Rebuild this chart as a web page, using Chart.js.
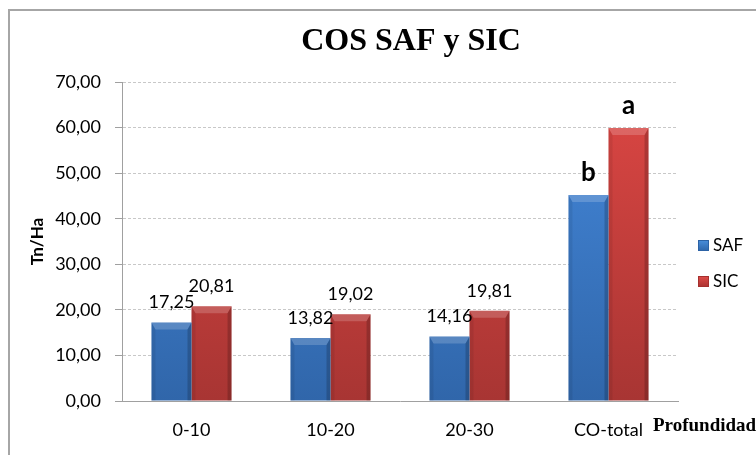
<!DOCTYPE html>
<html>
<head>
<meta charset="utf-8">
<script src="https://cdn.jsdelivr.net/npm/chart.js@4"></script>
<style>
    body { margin: 0; background: #fff; }
</style>
</head>
<body>
<canvas id="myChart" width="756" height="455"></canvas>
<script>
const categorias = ['0-10', '10-20', '20-30', 'CO-total'];
const valoresSAF = [17.25, 13.82, 14.16, 45.2];
const valoresSIC = [20.81, 19.02, 19.81, 59.9];
const etiquetasSAF = ['17,25', '13,82', '14,16', 'b'];
const etiquetasSIC = ['20,81', '19,02', '19,81', 'a'];
const letras = ['a', 'b'];

const fuente = 'Lato, "Open Sans", sans-serif';
const serif = '"Liberation Serif", "Times New Roman", serif';

function degradado(ctx, claro, oscuro) {
    const area = ctx.chart.chartArea;
    if (!area) return claro;
    const g = ctx.chart.ctx.createLinearGradient(0, area.top, 0, area.bottom);
    g.addColorStop(0, claro);
    g.addColorStop(1, oscuro);
    return g;
}

// marco, titulo, biselado, etiquetas y leyenda
const extras = {
    id: 'extras',
    beforeDraw(chart) {
        const c = chart.ctx;
        c.save();
        c.fillStyle = '#fff';
        c.fillRect(0, 0, chart.width, chart.height);
        c.strokeStyle = '#a6a6a6';
        c.lineWidth = 2;
        c.strokeRect(9, 10, 800, 500);
        c.restore();
    },
    afterDatasetsDraw(chart) {
        const c = chart.ctx;
        c.save();
        chart.data.datasets.forEach((ds, i) => {
            const meta = chart.getDatasetMeta(i);
            meta.data.forEach((bar, j) => {
                const l = bar.x - bar.width / 2, r = bar.x + bar.width / 2;
                const t = bar.y, b = bar.base;
                // franja superior clara
                c.fillStyle = 'rgba(255,255,255,0.18)';
                c.beginPath();
                c.moveTo(l, t); c.lineTo(r, t); c.lineTo(r - 4, t + 7); c.lineTo(l + 4, t + 7);
                c.closePath(); c.fill();
                // lados oscuros
                c.fillStyle = 'rgba(0,0,0,0.07)';
                c.beginPath();
                c.moveTo(l, t); c.lineTo(l + 4, t + 7); c.lineTo(l + 4, b); c.lineTo(l, b);
                c.closePath(); c.fill();
                c.fillStyle = 'rgba(0,0,0,0.18)';
                c.beginPath();
                c.moveTo(r, t); c.lineTo(r - 4, t + 7); c.lineTo(r - 4, b); c.lineTo(r, b);
                c.closePath(); c.fill();
                // etiqueta
                const txt = ds.etiquetas[j];
                const esLetra = letras.includes(txt);
                c.fillStyle = '#000';
                c.textAlign = 'center';
                c.textBaseline = 'middle';
                c.font = esLetra ? 'bold 26px ' + fuente : '18px ' + fuente;
                c.fillText(txt, bar.x, t - (esLetra ? 22 : 20));
            });
        });
        c.restore();
    },
    afterDraw(chart) {
        const c = chart.ctx;
        c.save();
        c.fillStyle = '#000';
        c.textAlign = 'center';
        c.textBaseline = 'middle';
        c.font = 'bold 32px ' + serif;
        c.fillText('COS SAF y SIC', 411, 42);
        c.textAlign = 'left';
        c.font = 'bold 19px ' + serif;
        c.fillText('Profundidad', 653, 426);
        // leyenda
        const cols = [['#4a8fdc', '#2c62a5'], ['#e04c49', '#a5302e']];
        chart.data.datasets.forEach((ds, i) => {
            const y = 246 + i * 36;
            const g = c.createLinearGradient(0, y - 6, 0, y + 6);
            g.addColorStop(0, cols[i][0]);
            g.addColorStop(1, cols[i][1]);
            c.fillStyle = g;
            c.fillRect(698, y - 6, 11, 11);
            c.strokeStyle = cols[i][1];
            c.lineWidth = 1;
            c.strokeRect(698.5, y - 5.5, 10, 10);
            c.fillStyle = '#000';
            c.font = '17px ' + fuente;
            c.fillText(ds.label, 713, y);
        });
        c.restore();
    }
};

new Chart('myChart', {
    type: 'bar',
    data: {
        labels: categorias,
        datasets: [{
            label: 'SAF',
            data: valoresSAF,
            etiquetas: etiquetasSAF,
            backgroundColor: ctx => degradado(ctx, '#4589dc', '#3066aa')
        }, {
            label: 'SIC',
            data: valoresSIC,
            etiquetas: etiquetasSIC,
            backgroundColor: ctx => degradado(ctx, '#dd4744', '#a83533')
        }]
    },
    options: {
        responsive: false,
        animation: false,
        layout: { padding: { left: 0, top: 82, right: 78, bottom: 0 } },
        datasets: { bar: { barPercentage: 1, categoryPercentage: 0.576 } },
        plugins: {
            legend: { display: false },
            title: { display: false },
            tooltip: { enabled: false }
        },
        scales: {
            x: {
                afterFit: s => { s.height = 54; },
                grid: { display: false, drawTicks: false },
                border: { display: true, color: '#a0a0a0', width: 1 },
                ticks: { color: '#000', padding: 18, font: { family: fuente, size: 18 } }
            },
            y: {
                min: 0,
                max: 70,
                afterFit: s => { s.width = 122; },
                ticks: {
                    stepSize: 10,
                    padding: 14,
                    color: '#000',
                    font: { family: fuente, size: 18 },
                    callback: v => v.toFixed(2).replace('.', ',')
                },
                grid: {
                    color: ctx => ctx.tick && ctx.tick.value === 0 ? 'rgba(0,0,0,0)' : '#c8c8c8',
                    tickColor: '#a0a0a0',
                    tickLength: 7
                },
                border: { display: true, color: '#a0a0a0', width: 1, dash: [3, 2] },
                title: {
                    display: true,
                    text: 'Tn/Ha',
                    color: '#000',
                    padding: { top: 27, bottom: 0 },
                    font: { family: fuente, size: 17, weight: 'bold' }
                }
            }
        }
    },
    plugins: [extras]
});
</script>
</body>
</html>
